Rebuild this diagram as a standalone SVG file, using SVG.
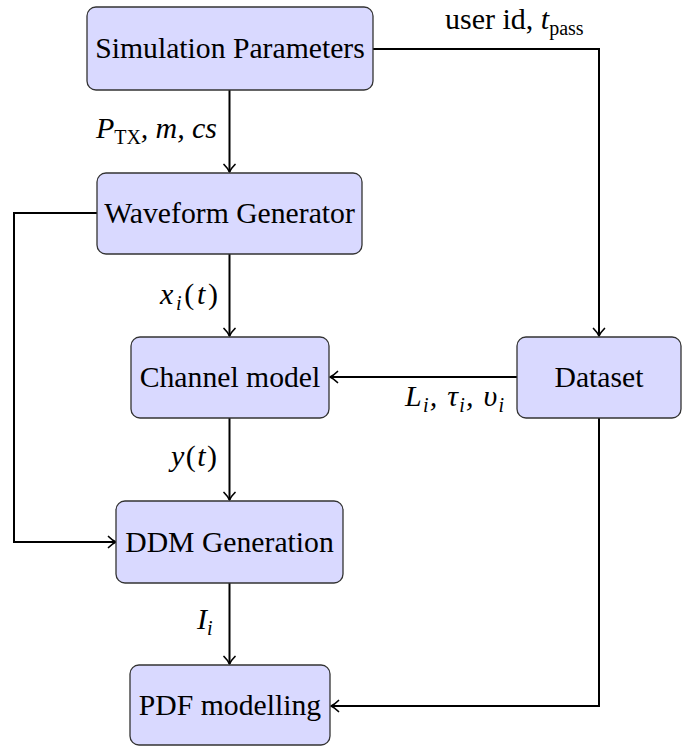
<svg xmlns="http://www.w3.org/2000/svg" width="689" height="747" viewBox="0 0 689 747">
  <style>
    .box { fill: #D9D9FF; stroke: #333333; stroke-width: 1.3; }
    .lbl { font-family: 'Liberation Serif', serif; font-size: 29.7px; fill: #000; text-anchor: middle; }
    .math { font-family: 'Liberation Serif', serif; font-size: 30px; fill: #000; font-style: italic; }
    .rm { font-style: normal; }
    .sub { font-size: 20px; }
    .conn { fill: none; stroke: #000; stroke-width: 2; marker-end: url(#arr); }
  </style>
  <defs>
    <marker id="arr" viewBox="-10 -7 12 14" refX="0" refY="0" markerWidth="12" markerHeight="14" markerUnits="userSpaceOnUse" orient="auto">
      <path d="M -7.5 -5.5 C -4.5 -2.5 -1.5 -0.6 0 0 C -1.5 0.6 -4.5 2.5 -7.5 5.5" fill="none" stroke="#000" stroke-width="1.7" stroke-linecap="round" stroke-linejoin="round"/>
    </marker>
  </defs>

  <g id="connectors">
    <path class="conn" d="M 229.5 90 L 229.5 172"/>
    <path class="conn" d="M 229.5 254 L 229.5 336"/>
    <path class="conn" d="M 229.5 418 L 229.5 500"/>
    <path class="conn" d="M 229.5 583 L 229.5 664"/>
    <path class="conn" d="M 373 49 L 599 49 L 599 336"/>
    <path class="conn" d="M 517 377 L 330 377"/>
    <path class="conn" d="M 97 213 L 14 213 L 14 542 L 116 542"/>
    <path class="conn" d="M 599 418 L 599 706 L 331 706"/>
  </g>

  <g id="labels">
    <text class="math" x="96" y="138" textLength="121" lengthAdjust="spacing">P<tspan class="rm sub" dy="6">TX</tspan><tspan dy="-6">, m, cs</tspan></text>
    <text class="math" x="160" y="304" textLength="58" lengthAdjust="spacing">x<tspan class="sub" dy="6">i</tspan><tspan class="rm" dy="-6">(</tspan>t<tspan class="rm">)</tspan></text>
    <text class="math" x="171" y="466" textLength="46" lengthAdjust="spacing">y<tspan class="rm">(</tspan>t<tspan class="rm">)</tspan></text>
    <text class="math" x="197" y="629">I<tspan class="sub" dy="6">i</tspan></text>
    <text class="math" x="405" y="406" textLength="99" lengthAdjust="spacing">L<tspan class="sub" dy="6">i</tspan><tspan dy="-6">, τ</tspan><tspan class="sub" dy="6">i</tspan><tspan dy="-6">, υ</tspan><tspan class="sub" dy="6">i</tspan></text>
    <text class="math rm" x="445" y="29">user id, <tspan font-style="italic">t</tspan><tspan class="sub" dy="6">pass</tspan></text>
  </g>

  <g id="sim-params">
    <rect class="box" x="87" y="7" width="286" height="83" rx="9"/>
    <text class="lbl" x="230" y="58">Simulation Parameters</text>
  </g>
  <g id="waveform-generator">
    <rect class="box" x="97" y="173" width="265" height="81" rx="9"/>
    <text class="lbl" x="229.5" y="223">Waveform Generator</text>
  </g>
  <g id="channel-model">
    <rect class="box" x="131" y="337" width="198" height="81" rx="9"/>
    <text class="lbl" x="230" y="387">Channel model</text>
  </g>
  <g id="dataset">
    <rect class="box" x="517" y="337" width="164" height="81" rx="9"/>
    <text class="lbl" x="599" y="387">Dataset</text>
  </g>
  <g id="ddm-generation">
    <rect class="box" x="116" y="501" width="227" height="82" rx="9"/>
    <text class="lbl" x="229.5" y="552">DDM Generation</text>
  </g>
  <g id="pdf-modelling">
    <rect class="box" x="130" y="665" width="200" height="80" rx="9"/>
    <text class="lbl" x="230" y="715">PDF modelling</text>
  </g>
</svg>
